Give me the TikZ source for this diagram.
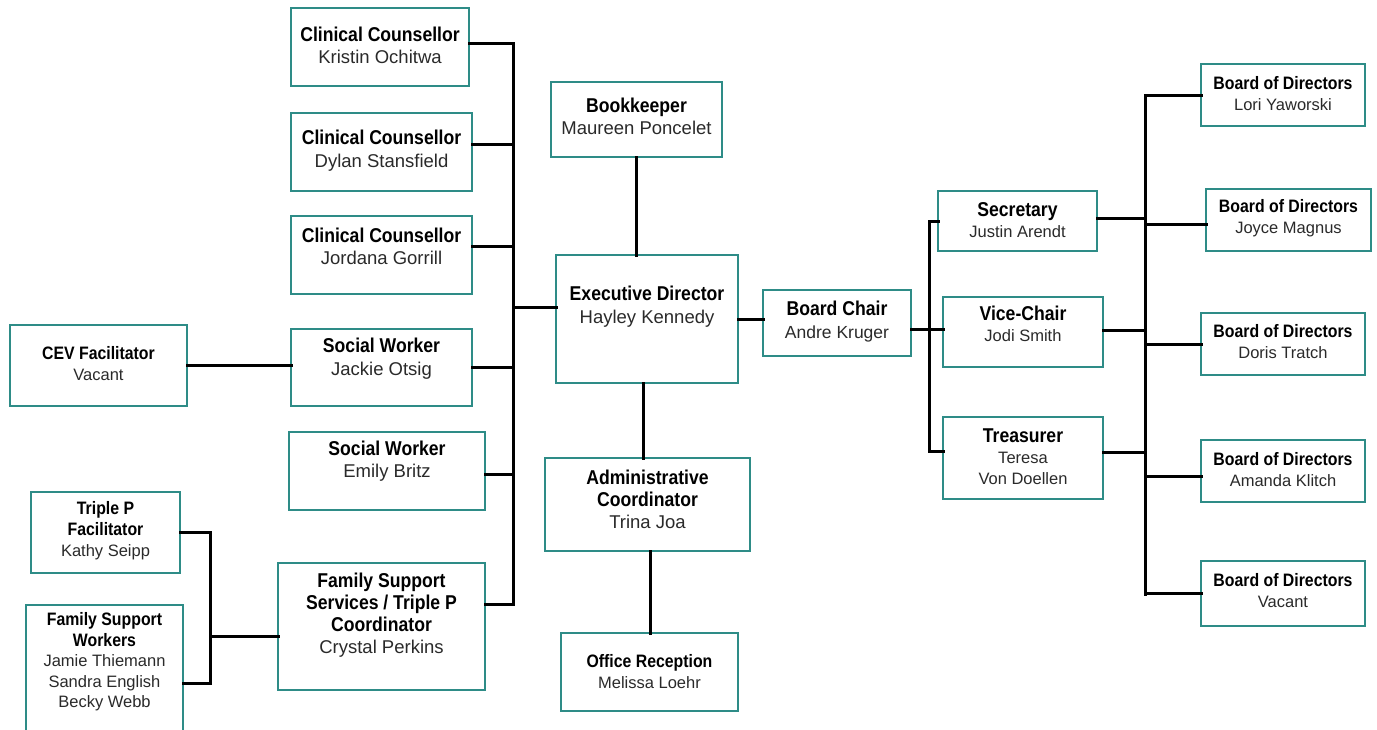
\documentclass[tikz,border=0pt]{standalone}
\usepackage{fontspec}
\setmainfont{Liberation Sans}
\newfontfamily\condfont[FakeStretch=0.88]{Liberation Sans}
\usetikzlibrary{calc}
\definecolor{boxteal}{HTML}{2E8C87}
\definecolor{nametext}{HTML}{2A2A2A}
\newcommand\ttlA{\condfont\bfseries\fontsize{20}{22}\selectfont}
\newcommand\ttlB{\condfont\bfseries\fontsize{18}{21}\selectfont}
\newcommand\nmA{\color{nametext}\fontsize{18.5}{22}\selectfont}
\newcommand\nmB{\color{nametext}\fontsize{16.5}{21}\selectfont}
\newcommand\orgbox[8][]{%
  \node[orgbox, minimum width={(#5)-(#3)}, minimum height={(#6)-(#4)}] (#2) at ({((#3)+(#5))/2},{((#4)+(#6))/2}) {};
  \node[orgtext,#1] (#2-t) at ({((#3)+(#5))/2},#7) {#8};
}
\tikzset{
  orgbox/.style={draw=boxteal, line width=2pt, fill=white, rectangle, inner sep=0pt, outer sep=0pt},
  orgtext/.style={align=center, inner sep=0pt, text=black, font={\fontsize{18}{22.5}\selectfont}},
  smalltext/.style={font={\fontsize{16}{21}\selectfont}},
  conn/.style={draw=black, line width=3pt, line cap=rect}
}
\begin{document}
\begin{tikzpicture}[x=1pt, y=-1pt]
\useasboundingbox[fill=white] (0,0) rectangle (1377,729);
% left column
\orgbox{cc1}{291}{8}{469}{86}{45.5}{{\ttlA Clinical Counsellor}\\{\nmA Kristin Ochitwa}}
\orgbox{cc2}{291}{113}{472}{191}{150.5}{{\ttlA Clinical Counsellor}\\{\nmA Dylan Stansfield}}
\orgbox{cc3}{291}{216}{472}{294}{246.5}{{\ttlA Clinical Counsellor}\\{\nmA Jordana Gorrill}}
\orgbox{sw1}{291}{329}{472}{406}{358.5}{{\ttlA Social Worker}\\{\nmA Jackie Otsig}}
\orgbox{sw2}{289}{432}{485}{510}{461}{{\ttlA Social Worker}\\{\nmA Emily Britz}}
\orgbox[font={\fontsize{18}{21.8}\selectfont}]{fss}{278}{563}{485}{690}{615}{{\ttlA Family Support}\\{\ttlA Services / Triple P}\\{\ttlA Coordinator}\\{\nmA Crystal Perkins}}
\orgbox[smalltext]{cev}{10}{325}{187}{406}{363.5}{{\ttlB CEV Facilitator}\\{\nmB Vacant}}
\orgbox[smalltext]{tpf}{31}{492}{180}{573}{530.5}{{\ttlB Triple P}\\{\ttlB Facilitator}\\{\nmB Kathy Seipp}}
\orgbox[font={\fontsize{16}{20.5}\selectfont}]{fsw}{26}{605}{183}{735}{662}{{\ttlB Family Support}\\{\ttlB Workers}\\{\nmB Jamie Thiemann}\\{\nmB Sandra English}\\{\nmB Becky Webb}}
% centre
\orgbox{bk}{551}{82}{722}{157}{116.5}{{\ttlA Bookkeeper}\\{\nmA Maureen Poncelet}}
\orgbox{exec}{556}{255}{738}{383}{306.5}{{\ttlA Executive Director}\\{\nmA Hayley Kennedy}}
\orgbox[font={\fontsize{18}{22}\selectfont}]{admin}{545}{458}{750}{551}{499}{{\ttlA Administrative}\\{\ttlA Coordinator}\\{\nmA Trina Joa}}
\orgbox[smalltext]{off}{561}{633}{738}{711}{671.5}{{\ttlB Office Reception}\\{\nmB Melissa Loehr}}
% board
\orgbox{chair}{763}{290}{911}{356}{321.5}{{\ttlA Board Chair}\\{\color{nametext}\fontsize{17.5}{22}\selectfont Andre Kruger}}
\orgbox[smalltext]{sec}{938}{191}{1097}{251}{220}{{\ttlA Secretary}\\{\nmB Justin Arendt}}
\orgbox[smalltext]{vice}{943}{297}{1103}{367}{324}{{\ttlA Vice-Chair}\\{\nmB Jodi Smith}}
\orgbox[smalltext]{treas}{943}{417}{1103}{499}{457}{{\ttlA Treasurer}\\{\nmB Teresa}\\{\nmB Von Doellen}}
\orgbox[smalltext]{d1}{1201}{64}{1365}{126}{93.5}{{\ttlB Board of Directors}\\{\nmB Lori Yaworski}}
\orgbox[smalltext]{d2}{1206}{189}{1371}{251}{218.5}{{\ttlB Board of Directors}\\{\nmB Joyce Magnus}}
\orgbox[smalltext]{d3}{1201}{313}{1365}{375}{342}{{\ttlB Board of Directors}\\{\nmB Doris Tratch}}
\orgbox[smalltext]{d4}{1201}{440}{1365}{502}{469.5}{{\ttlB Board of Directors}\\{\nmB Amanda Klitch}}
\orgbox[smalltext]{d5}{1201}{561}{1365}{626}{590.5}{{\ttlB Board of Directors}\\{\nmB Vacant}}
% bus coordinates
\coordinate (lbus-top) at (513,43);
\coordinate (lbus-bot) at (513,604);
\coordinate (tbus-top) at (210,532);
\coordinate (tbus-bot) at (210,683);
\coordinate (obus-top) at (929,222);
\coordinate (obus-bot) at (929,451);
\coordinate (dbus-top) at (1145,95);
\coordinate (dbus-bot) at (1145,594);
% left bus
\draw[conn] (lbus-top) -- (lbus-bot);
\draw[conn] ([yshift=4pt]cc1.east) -- ([yshift=4pt]cc1.east -| lbus-top);
\draw[conn] ([yshift=8pt]cc2.east) -- ([yshift=8pt]cc2.east -| lbus-top);
\draw[conn] ([yshift=9pt]cc3.east) -- ([yshift=9pt]cc3.east -| lbus-top);
\draw[conn] (sw1.east) -- (sw1.east -| lbus-top);
\draw[conn] ([yshift=-3pt]sw2.east) -- ([yshift=-3pt]sw2.east -| lbus-top);
\draw[conn] ([yshift=22pt]fss.east) -- ([yshift=22pt]fss.east -| lbus-top);
\draw[conn] ([yshift=12pt]exec.west) -- ([yshift=12pt]exec.west -| lbus-top);
\draw[conn] (cev.east) -- (cev.east -| sw1.west);
% triple P bus
\draw[conn] (tbus-top) -- (tbus-bot);
\draw[conn] (tpf.east) -- (tpf.east -| tbus-top);
\draw[conn] ([yshift=-13pt]fsw.east) -- ([yshift=-13pt]fsw.east -| tbus-top);
\draw[conn] ([yshift=-9.5pt]fss.west) -- ([yshift=-9.5pt]fss.west -| tbus-top);
% centre verticals
\draw[conn] (bk.south) -- (bk.south |- exec.north);
\draw[conn] ([xshift=-4pt]exec.south) -- ([xshift=-4pt]exec.south |- admin.north);
\draw[conn] ([xshift=2.5pt]admin.south) -- ([xshift=2.5pt]admin.south |- off.north);
\draw[conn] (exec.east) -- (exec.east -| chair.west);
% officers bus
\draw[conn] (obus-top) -- (obus-bot);
\draw[conn] ([yshift=-6pt]chair.east) -- ([yshift=-6pt]chair.east -| obus-top);
\draw[conn] (sec.west) -- (sec.west -| obus-top);
\draw[conn] ([yshift=3pt]vice.west) -- ([yshift=3pt]vice.west -| obus-top);
\draw[conn] ([yshift=7pt]treas.west) -- ([yshift=7pt]treas.west -| obus-top);
% directors bus
\draw[conn] (dbus-top) -- (dbus-bot);
\draw[conn] ([yshift=3pt]sec.east) -- ([yshift=3pt]sec.east -| dbus-top);
\draw[conn] ([yshift=2pt]vice.east) -- ([yshift=2pt]vice.east -| dbus-top);
\draw[conn] ([yshift=6pt]treas.east) -- ([yshift=6pt]treas.east -| dbus-top);
\draw[conn] (d1.west) -- (d1.west -| dbus-top);
\draw[conn] ([yshift=-4pt]d2.west) -- ([yshift=-4pt]d2.west -| dbus-top);
\draw[conn] (d3.west) -- (d3.west -| dbus-top);
\draw[conn] ([yshift=-5pt]d4.west) -- ([yshift=-5pt]d4.west -| dbus-top);
\draw[conn] (d5.west) -- (d5.west -| dbus-top);
\end{tikzpicture}
\end{document}
